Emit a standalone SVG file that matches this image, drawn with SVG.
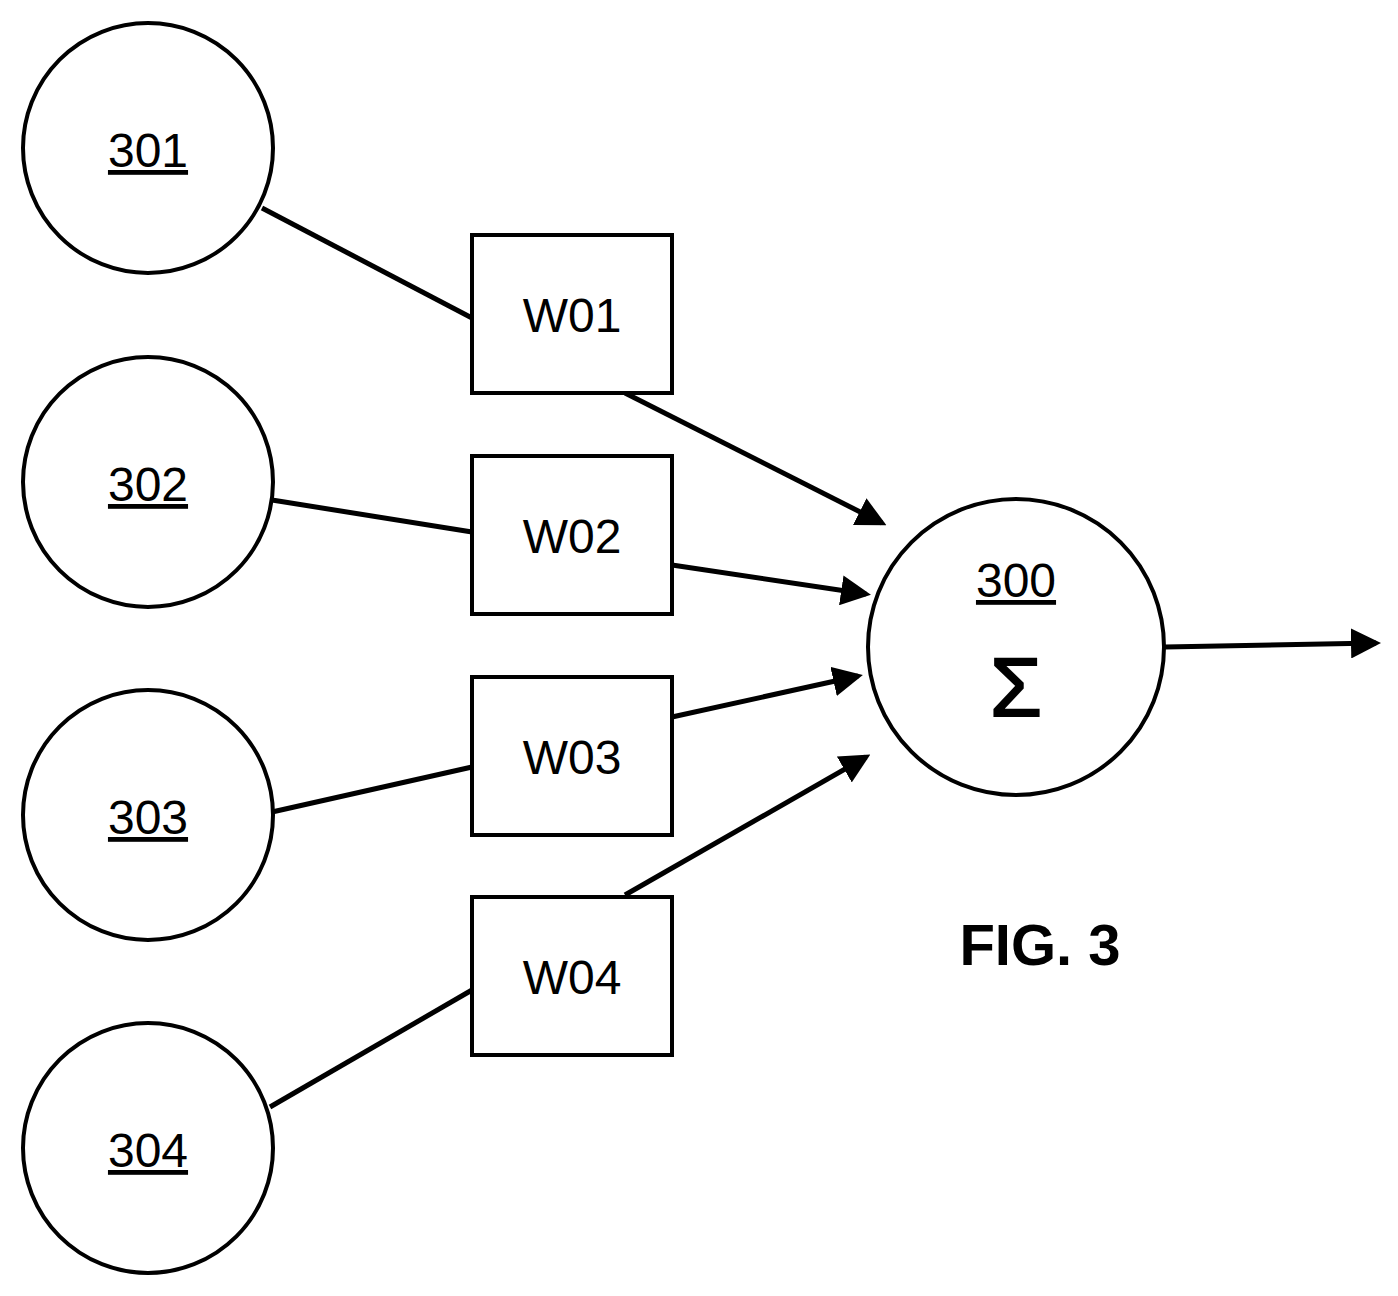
<svg xmlns="http://www.w3.org/2000/svg" width="1398" height="1296" viewBox="0 0 1398 1296">
<defs>
<marker id="ah" markerWidth="6" markerHeight="6" refX="5" refY="3" orient="auto" markerUnits="strokeWidth"><path d="M0,0 L6,3 L0,6 Z" fill="#000"/></marker>
<style>
.n{fill:#fff;stroke:#000;stroke-width:4}
.t{font-family:"Liberation Sans",Arial,sans-serif;font-size:48px;text-anchor:middle;fill:#000}
.u{text-decoration:underline}
.c line{stroke:#000;stroke-width:5}
.a{marker-end:url(#ah)}
</style>
</defs>
<rect width="1398" height="1296" fill="#fff"/>
<g class="c">
<line x1="262" y1="208" x2="472" y2="318"/>
<line class="a" x1="625" y1="393" x2="882" y2="523"/>
<line x1="272" y1="500" x2="472" y2="532"/>
<line class="a" x1="672" y1="565" x2="866" y2="594"/>
<line x1="272" y1="812" x2="472" y2="767"/>
<line class="a" x1="672" y1="717" x2="858" y2="676"/>
<line x1="270" y1="1107" x2="472" y2="990"/>
<line class="a" x1="625" y1="895" x2="866" y2="757"/>
<line class="a" x1="1165" y1="647" x2="1376" y2="643"/>
</g>
<g id="n301"><circle class="n" cx="148" cy="148" r="125"/><text class="t u" x="148" y="167">301</text></g>
<g id="n302"><circle class="n" cx="148" cy="482" r="125"/><text class="t u" x="148" y="501">302</text></g>
<g id="n303"><circle class="n" cx="148" cy="815" r="125"/><text class="t u" x="148" y="834">303</text></g>
<g id="n304"><circle class="n" cx="148" cy="1148" r="125"/><text class="t u" x="148" y="1167">304</text></g>
<g id="w01"><rect class="n" x="472" y="235" width="200" height="158"/><text class="t" x="572" y="332">W01</text></g>
<g id="w02"><rect class="n" x="472" y="456" width="200" height="158"/><text class="t" x="572" y="553">W02</text></g>
<g id="w03"><rect class="n" x="472" y="677" width="200" height="158"/><text class="t" x="572" y="774">W03</text></g>
<g id="w04"><rect class="n" x="472" y="897" width="200" height="158"/><text class="t" x="572" y="994">W04</text></g>
<g id="n300"><circle class="n" cx="1016" cy="647" r="148"/><text class="t u" x="1016" y="597">300</text><text class="t" x="1016" y="716" style="font-size:84px;stroke:#000;stroke-width:2">Σ</text></g>
<text class="t" x="1040" y="965" style="font-size:58px;font-weight:bold">FIG. 3</text>
</svg>
